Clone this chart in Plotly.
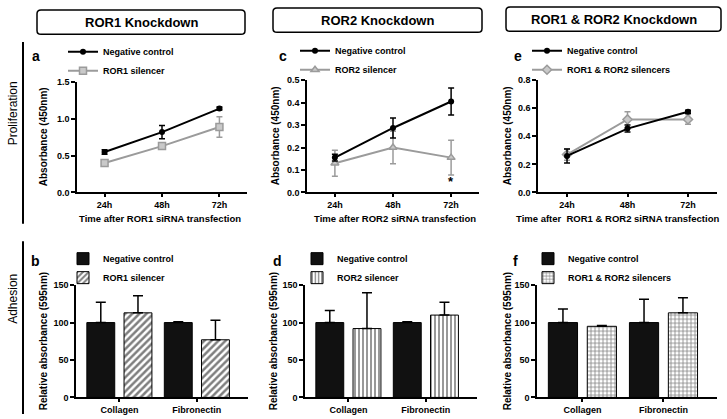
import plotly.graph_objects as go

W, H = 727, 419
FONT = "Liberation Sans"

# ---------------- data ----------------
times = ["24h", "48h", "72h"]
substrates = ["Collagen", "Fibronectin"]

a_nc = [0.55, 0.82, 1.14]
a_nc_err = [0.03, 0.09, 0.02]
a_sil = [0.40, 0.63, 0.89]
a_sil_err = [0.03, 0.015, 0.14]

c_nc = [0.155, 0.287, 0.405]
c_nc_err = [0.015, 0.045, 0.06]
c_sil = [0.13, 0.20, 0.155]
c_sil_err = [0.058, 0.072, 0.077]
c_sig = ["", "", "*"]

e_nc = [0.26, 0.455, 0.575]
e_nc_err = [0.05, 0.025, 0.01]
e_sil = [0.27, 0.52, 0.52]
e_sil_err = [0.04, 0.055, 0.035]

b_nc = [100, 100]
b_nc_err = [27, 1]
b_sil = [113, 77]
b_sil_err = [23, 26]

d_nc = [100, 100]
d_nc_err = [16, 1]
d_sil = [92, 110]
d_sil_err = [48, 17]

f_nc = [100, 100]
f_nc_err = [18, 31]
f_sil = [95, 113]
f_sil_err = [1, 20]

# ---------------- helpers ----------------
def px(p):
    return p / W

def py(p):
    return 1 - p / H

GRAY = "#9b9b9b"
LGRAY = "#c9c9c9"

fig = go.Figure()

def line_panel(idx, nc, nc_err, sil, sil_err, sil_name, sil_symbol):
    xa = "x" if idx == 1 else f"x{idx}"
    ya = "y" if idx == 1 else f"y{idx}"
    leg = "legend" if idx == 1 else f"legend{idx}"
    fig.add_trace(go.Scatter(
        x=times, y=sil, name=sil_name, mode="lines+markers",
        line=dict(color=GRAY, width=2),
        marker=dict(symbol=sil_symbol, size=7, color=LGRAY,
                    line=dict(color=GRAY, width=1.5)),
        error_y=dict(type="data", array=sil_err, color=GRAY, thickness=1.5, width=3),
        xaxis=xa, yaxis=ya, legend=leg, legendrank=2))
    fig.add_trace(go.Scatter(
        x=times, y=nc, name="Negative control", mode="lines+markers",
        line=dict(color="black", width=2),
        marker=dict(symbol="circle", size=6, color="black"),
        error_y=dict(type="data", array=nc_err, color="black", thickness=1.5, width=3),
        xaxis=xa, yaxis=ya, legend=leg, legendrank=1))

def bar_panel(idx, nc, nc_err, sil, sil_err, sil_name, shape, psize, solid):
    xa = f"x{idx}"
    ya = f"y{idx}"
    leg = f"legend{idx}"
    fig.add_trace(go.Bar(
        x=substrates, y=nc, name="Negative control",
        marker=dict(color="#111111", line=dict(color="black", width=1)),
        error_y=dict(type="data", array=nc_err, arrayminus=[0] * len(nc),
                     symmetric=False, color="black", thickness=1.5, width=5),
        width=0.36, offset=-0.42,
        xaxis=xa, yaxis=ya, legend=leg, legendrank=1))
    fig.add_trace(go.Bar(
        x=substrates, y=sil, name=sil_name,
        marker=dict(color="white", line=dict(color="black", width=1),
                    pattern=dict(shape=shape, fgcolor="black", bgcolor="white",
                                 size=psize, solidity=solid)),
        error_y=dict(type="data", array=sil_err, arrayminus=[0] * len(sil),
                     symmetric=False, color="black", thickness=1.5, width=5),
        width=0.36, offset=0.06,
        xaxis=xa, yaxis=ya, legend=leg, legendrank=2))

line_panel(1, a_nc, a_nc_err, a_sil, a_sil_err, "ROR1 silencer", "square")
line_panel(2, c_nc, c_nc_err, c_sil, c_sil_err, "ROR2 silencer", "triangle-up")
line_panel(3, e_nc, e_nc_err, e_sil, e_sil_err, "ROR1 & ROR2 silencers", "diamond")
bar_panel(4, b_nc, b_nc_err, b_sil, b_sil_err, "ROR1 silencer", "/", 5, 0.5)
bar_panel(5, d_nc, d_nc_err, d_sil, d_sil_err, "ROR2 silencer", "|", 4, 0.4)
bar_panel(6, f_nc, f_nc_err, f_sil, f_sil_err, "ROR1 & ROR2 silencers", "+", 4, 0.35)

tickfont = dict(family=FONT, size=9, color="black", weight="bold")

# panel geometry (pixels): x0, x1, ytop, ybottom
geo = {
    1: (77, 247, 79, 192),
    2: (307, 479, 77, 192),
    3: (538, 717, 77, 192),
    4: (76, 248, 287, 402),
    5: (305, 477, 287, 402),
    6: (537, 717, 287, 402),
}
yranges = {1: (0, 1.5, 0.5, ".1f"), 2: (0, 0.5, 0.1, ".1f"), 3: (0, 0.8, 0.2, ".1f"),
           4: (0, 150, 50, "d"), 5: (0, 150, 50, "d"), 6: (0, 150, 50, "d")}

layout = {}
for i, (x0, x1, yt, yb) in geo.items():
    xk = "xaxis" if i == 1 else f"xaxis{i}"
    yk = "yaxis" if i == 1 else f"yaxis{i}"
    ya = "y" if i == 1 else f"y{i}"
    xa = "x" if i == 1 else f"x{i}"
    r0, r1, dt, fmt = yranges[i]
    xrange = [-0.48, 2.48] if i <= 3 else [-0.56, 1.66]
    layout[xk] = dict(domain=[px(x0), px(x1)], anchor=ya, range=xrange,
                      type="category", showline=True, linecolor="black", linewidth=1.5,
                      ticks="outside", ticklen=3, tickwidth=1.5, tickcolor="black",
                      tickfont=tickfont, showgrid=False, zeroline=False, fixedrange=True)
    layout[yk] = dict(domain=[py(yb), py(yt)], anchor=xa, range=[r0, r1],
                      dtick=dt, tick0=0, tickformat=fmt,
                      showline=True, linecolor="black", linewidth=1.5,
                      ticks="outside", ticklen=4, tickwidth=1.5, tickcolor="black",
                      tickfont=tickfont, showgrid=False, zeroline=False, fixedrange=True)

# legends
legfont = dict(family=FONT, size=9, color="black", weight="bold")
legpos = {1: (63, 33), 2: (295, 32), 3: (527, 32), 4: (63, 245), 5: (297, 245), 6: (528, 245)}
for i, (lx, ly) in legpos.items():
    lk = "legend" if i == 1 else f"legend{i}"
    layout[lk] = dict(x=px(lx), y=py(ly), xanchor="left", yanchor="top",
                      font=legfont, bgcolor="rgba(0,0,0,0)", borderwidth=0,
                      tracegroupgap=0, traceorder="normal")

annotations = []
shapes = []

def ann(text, x, y, size=9, bold=True, angle=0, xanchor="center"):
    annotations.append(dict(text=text, x=px(x), y=py(y), xref="paper", yref="paper",
                            showarrow=False, textangle=angle, xanchor=xanchor, yanchor="middle",
                            font=dict(family=FONT, size=size, color="black",
                                      weight="bold" if bold else "normal")))

# header boxes
def rrect(x0, x1, y0, y1, r=4):
    rx, ry = r / W, r / H
    X0, X1, Y0, Y1 = px(x0), px(x1), py(y0), py(y1)
    return (f"M {X0+rx},{Y0} L {X1-rx},{Y0} Q {X1},{Y0} {X1},{Y0-ry} "
            f"L {X1},{Y1+ry} Q {X1},{Y1} {X1-rx},{Y1} L {X0+rx},{Y1} "
            f"Q {X0},{Y1} {X0},{Y1+ry} L {X0},{Y0-ry} Q {X0},{Y0} {X0+rx},{Y0} Z")

headers = [("ROR1 Knockdown", 37, 245, 5, 30),
           ("ROR2 Knockdown", 273, 482, 3, 28),
           ("ROR1 & ROR2 Knockdown", 506, 721, 2, 27)]
for t, x0, x1, y0, y1 in headers:
    shapes.append(dict(type="path", path=rrect(x0, x1, y0, y1), xref="paper", yref="paper",
                       line=dict(color="black", width=1.5)))
    ann(t, (x0 + x1) / 2, (y0 + y1) / 2 + 0.5, size=13)

# row labels and vertical separators
ann("Proliferation", 13, 111, size=12, bold=False, angle=-90)
ann("Adhesion", 13, 301, size=12, bold=False, angle=-90)
shapes.append(dict(type="line", xref="paper", yref="paper", x0=px(23), x1=px(23),
                   y0=py(38), y1=py(224), line=dict(color="black", width=2)))
shapes.append(dict(type="line", xref="paper", yref="paper", x0=px(23), x1=px(23),
                   y0=py(242), y1=py(419), line=dict(color="black", width=2)))

# panel letters
for t, x, y in [("a", 36, 52), ("c", 283, 52), ("e", 518, 52),
                ("b", 35, 262), ("d", 277, 262), ("f", 515, 262)]:
    ann(t, x, y, size=14)

# axis titles
for i, (x0, x1, yt, yb) in geo.items():
    title = "Absorbance (450nm)" if i <= 3 else "Relative absorbance (595nm)"
    xt = {1: 43, 2: 275, 3: 507, 4: 43, 5: 273, 6: 507}[i]
    ann(title, xt, (yt + yb) / 2, size=10, angle=-90)

ann("Time after ROR1 siRNA transfection", 160, 219, size=9.5)
ann("Time after ROR2 siRNA transfection", 395, 219, size=9.5)
ann("Time after\u00a0\u00a0ROR1 & ROR2 siRNA transfection", 617, 219, size=9.5)

# significance marks (panel c)
for k, s in enumerate(c_sig):
    if s:
        annotations.append(dict(text=s, x=times[k], y=c_sil[k] - c_sil_err[k] - 0.03,
                                xref="x2", yref="y2", showarrow=False,
                                font=dict(family=FONT, size=13, color="black", weight="bold")))

fig.update_layout(
    width=W, height=H, margin=dict(l=0, r=0, t=0, b=0),
    paper_bgcolor="white", plot_bgcolor="white",
    barmode="group", showlegend=True,
    annotations=annotations, shapes=shapes,
    font=dict(family=FONT, color="black"),
    **layout)

fig.write_html("out.html", config={"displayModeBar": False},
               post_script="document.body.style.margin='0';document.body.style.overflow='hidden';")
